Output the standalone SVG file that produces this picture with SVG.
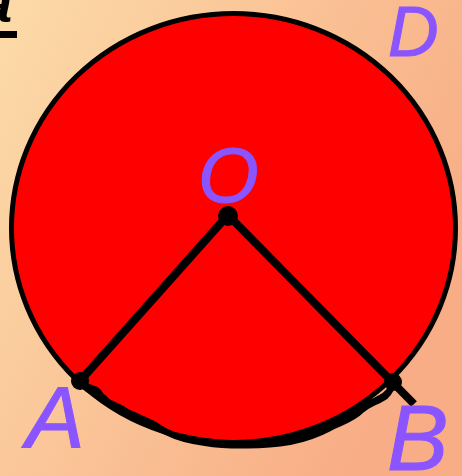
<svg xmlns="http://www.w3.org/2000/svg" width="462" height="476" viewBox="0 0 462 476">
  <defs>
    <linearGradient id="bg" x1="0" y1="0" x2="1" y2="0.5">
      <stop offset="0" stop-color="#FCDBA8"/>
      <stop offset="1" stop-color="#F8AD86"/>
    </linearGradient>
  </defs>
  <style>
    .lbl { font-family: "Liberation Sans", Arial, sans-serif; font-style: italic; fill: #8A55FF; stroke: #8A55FF; stroke-width: 1; }
    .seg { stroke: #000; stroke-width: 8; stroke-linecap: butt; fill: none; }
    .dot { fill: #000; }
    .wob { stroke: #000; stroke-width: 6; fill: none; stroke-linejoin: round; stroke-linecap: round; }
  </style>
  <rect width="462" height="476" fill="url(#bg)"/>
  <g id="corner-label">
    <text x="-19" y="22" font-family="Liberation Sans, Arial, sans-serif" font-weight="bold" font-style="italic" font-size="56" fill="#000">a</text>
    <rect x="0" y="31" width="17" height="7" fill="#000"/>
  </g>
  <g id="circle">
    <ellipse cx="233.5" cy="228" rx="222" ry="214.5" fill="#FF0000" stroke="#000" stroke-width="5"/>
  </g>
  <g id="connectors">
    <line class="seg" x1="228" y1="215" x2="80" y2="381"/>
    <line class="seg" x1="228" y1="215" x2="414" y2="404"/>
    <path class="wob" d="M80,382 C90,390 96,386 100,394 C106,404 116,404 124,410 C136,418 150,420 160,428 C172,436 180,436 192,439 C215,444 250,444 282,441 C300,439 312,434 325,429 C338,423 348,418 356,410 C364,402 372,404 380,398 C388,394 390,390 393,383"/>
    <path class="wob" d="M82,384 C92,396 100,392 106,400 C114,410 122,410 132,414 C146,420 154,426 166,432 C178,438 190,441 205,443 C230,447 265,446 290,442 C305,439 315,436 330,428 C342,422 352,420 362,410 C370,403 378,402 386,396 C390,392 392,388 393,383"/>
  </g>
  <g id="node-O">
    <circle class="dot" cx="228" cy="216" r="10"/>
    <text class="lbl" x="198" y="202" font-size="78">O</text>
  </g>
  <g id="node-A">
    <circle class="dot" cx="80" cy="381" r="9"/>
    <text class="lbl" x="26" y="448" font-size="88">A</text>
  </g>
  <g id="node-B">
    <circle class="dot" cx="393" cy="382" r="9"/>
    <text class="lbl" x="387" y="470" font-size="92">B</text>
  </g>
  <g id="node-D">
    <text class="lbl" x="388" y="56" font-size="70">D</text>
  </g>
</svg>
